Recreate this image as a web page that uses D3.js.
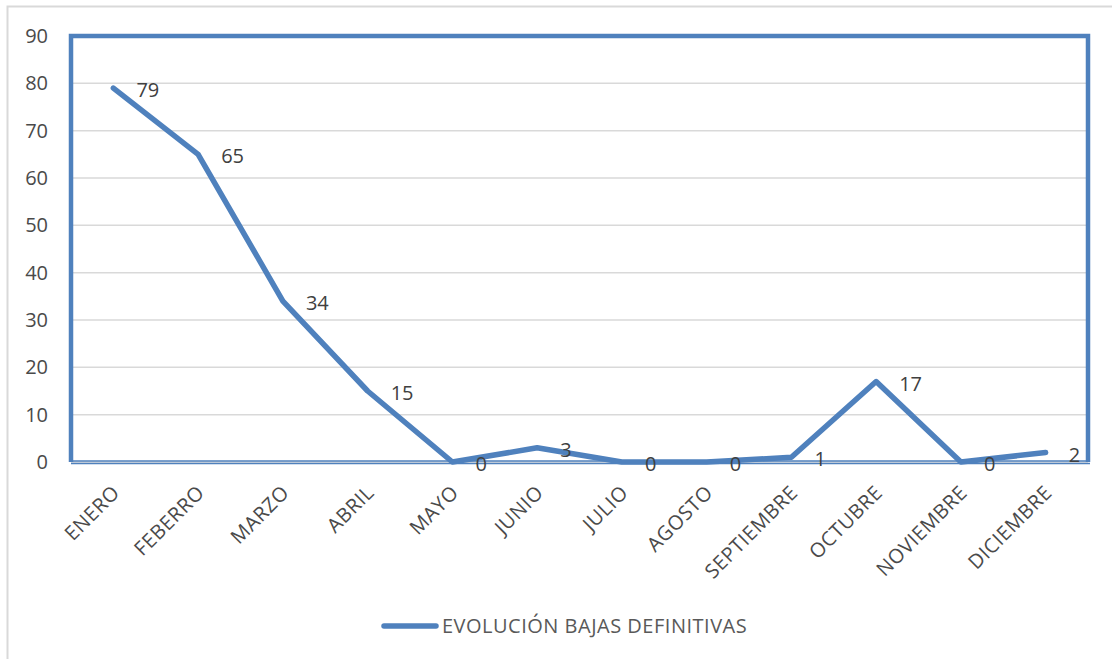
<!DOCTYPE html>
<html>
<head>
<meta charset="utf-8">
<script src="https://cdn.jsdelivr.net/npm/d3@7"></script>
<style>
  body { margin: 0; background: #fff; }
  svg { display: block; font-family: "Open Sans", Lato, sans-serif; }
</style>
</head>
<body>
<svg id="canvas" width="1112" height="659"></svg>
<script>
var months = ["ENERO", "FEBERRO", "MARZO", "ABRIL", "MAYO", "JUNIO", "JULIO",
	"AGOSTO", "SEPTIEMBRE", "OCTUBRE", "NOVIEMBRE", "DICIEMBRE"];
var bajas = [79, 65, 34, 15, 0, 3, 0, 0, 1, 17, 0, 2];
var yTicks = [0, 10, 20, 30, 40, 50, 60, 70, 80, 90];
var seriesName = "EVOLUCIÓN BAJAS DEFINITIVAS";

var blue = "#4f81bd";
var context = d3.select("#canvas");

// outer chart frame
context.append("rect")
	.attr("x", 7.5).attr("y", 6.5)
	.attr("width", 1120).attr("height", 680)
	.attr("fill", "#fff")
	.attr("stroke", "#d9d9d9")
	.attr("stroke-width", 2);

var pLeft = 71, pRight = 1088, pTop = 36, pBottom = 462;

var x = d3.scalePoint()
	.domain(months)
	.range([pLeft, pRight])
	.padding(0.5);

var y = d3.scaleLinear()
	.domain([0, 90])
	.range([pBottom, pTop]);

// gridlines
context.append("g")
	.selectAll("line")
	.data(yTicks)
	.enter().append("line")
	.attr("x1", pLeft).attr("x2", pRight)
	.attr("y1", function(d) { return y(d); })
	.attr("y2", function(d) { return y(d); })
	.attr("stroke", "#d9d9d9")
	.attr("stroke-width", 1.5);

// y axis labels
var yAxis = context.append("g")
	.attr("transform", "translate(" + (pLeft - 23) + ",0)")
	.call(d3.axisLeft(y).tickValues(yTicks).tickSize(0).tickPadding(0));
yAxis.select(".domain").remove();
yAxis.selectAll("text")
	.attr("font-family", "'Open Sans', Lato, sans-serif")
	.attr("font-size", 20)
	.attr("fill", "#4a4a4a");

// x axis labels (rotated)
var xAxis = context.append("g")
	.attr("transform", "translate(0," + pBottom + ")")
	.call(d3.axisBottom(x).tickSize(0).tickPadding(0));
xAxis.select(".domain").remove();
xAxis.selectAll("text")
	.attr("font-family", "'Open Sans', Lato, sans-serif")
	.attr("font-size", 20)
	.attr("letter-spacing", 0.5)
	.attr("fill", "#4a4a4a")
	.attr("text-anchor", "end")
	.attr("dy", null)
	.attr("transform", "translate(7,32) rotate(-45)");

// plot area border
context.append("path")
	.attr("d", "M" + pLeft + "," + pBottom + "V" + pTop + "H" + pRight + "V" + pBottom)
	.attr("fill", "none")
	.attr("stroke", blue)
	.attr("stroke-width", 4.5);
context.append("line")
	.attr("x1", pLeft).attr("x2", pRight + 2)
	.attr("y1", pBottom - 1).attr("y2", pBottom - 1)
	.attr("stroke", blue).attr("stroke-width", 1.5);
context.append("line")
	.attr("x1", pLeft).attr("x2", pRight + 2)
	.attr("y1", pBottom + 1.5).attr("y2", pBottom + 1.5)
	.attr("stroke", blue).attr("stroke-width", 1.5);

// series line
var line = d3.line()
	.x(function(d, i) { return x(months[i]); })
	.y(function(d) { return y(d); });

context.append("path")
	.datum(bajas)
	.attr("d", line)
	.attr("fill", "none")
	.attr("stroke", blue)
	.attr("stroke-width", 5.5)
	.attr("stroke-linejoin", "round")
	.attr("stroke-linecap", "round");

// data labels
context.append("g")
	.selectAll("text")
	.data(bajas)
	.enter().append("text")
	.attr("x", function(d, i) { return x(months[i]) + 23; })
	.attr("y", function(d) { return y(d) + 9; })
	.attr("font-size", 20)
	.attr("fill", "#404040")
	.text(function(d) { return d; });

// legend
var legend = context.append("g");
legend.append("line")
	.attr("x1", 384).attr("x2", 436)
	.attr("y1", 626).attr("y2", 626)
	.attr("stroke", blue)
	.attr("stroke-width", 5.5)
	.attr("stroke-linecap", "round");
legend.append("text")
	.attr("x", 442).attr("y", 633)
	.attr("font-size", 20)
	.attr("letter-spacing", 0.5)
	.attr("fill", "#595959")
	.text(seriesName);
</script>
</body>
</html>
